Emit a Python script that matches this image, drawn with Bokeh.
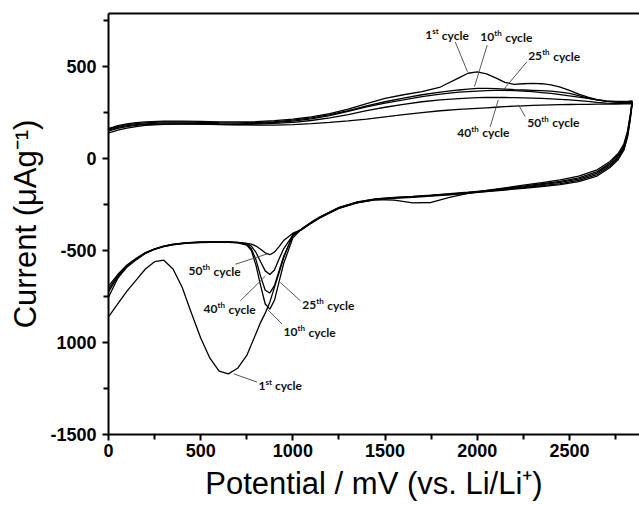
from bokeh.plotting import figure
from bokeh.models import FixedTicker, LinearAxis, ColumnDataSource
from bokeh.embed import file_html
from bokeh.resources import INLINE
from bokeh.core.properties import value

# ---------------- data (potential in mV, current in uA/g) ----------------
CYCLES = ["1st", "10th", "25th", "40th", "50th"]

# anodic sweep (0 -> 2840 mV)
ANOD_X = [0, 25, 50, 100, 150, 200, 300, 400, 500, 600, 700, 800, 900, 1000,
          1100, 1200, 1300, 1400, 1500, 1600, 1700, 1800, 1900, 1950, 2000,
          2050, 2100, 2150, 2200, 2250, 2300, 2350, 2400, 2450, 2500, 2550,
          2600, 2650, 2700, 2750, 2800, 2820, 2840]
ANOD_1 = [165, 172, 180, 190, 196, 200, 205, 205, 203, 200, 200, 202, 207, 215,
          228, 245, 270, 300, 328, 348, 365, 390, 440, 465, 472,
          462, 440, 415, 405, 408, 410, 408, 402, 390, 372, 352,
          335, 322, 315, 312, 312, 313, 315]
ANOD_10 = [160, 168, 175, 185, 191, 195, 200, 200, 198, 196, 195, 197, 202, 210,
           222, 240, 262, 288, 310, 330, 348, 362, 374, 379, 383,
           383, 381, 379, 376, 374, 372, 370, 368, 362, 355, 343,
           330, 320, 312, 309, 309, 310, 311]
ANOD_25 = [155, 163, 170, 180, 186, 190, 195, 195, 193, 191, 190, 192, 197, 205,
           217, 235, 257, 282, 303, 320, 338, 352, 362, 365, 368,
           370, 372, 372, 370, 368, 365, 360, 355, 349, 342, 335,
           328, 320, 313, 308, 305, 306, 307]
ANOD_40 = [150, 158, 165, 175, 181, 185, 190, 190, 189, 187, 186, 188, 192, 198,
           208, 222, 240, 262, 280, 296, 310, 320, 327, 330, 332,
           333, 333, 333, 332, 331, 330, 328, 326, 323, 320, 316,
           312, 307, 303, 301, 301, 302, 303]
ANOD_50 = [140, 148, 156, 167, 175, 181, 187, 189, 188, 186, 184, 183, 183, 186,
           191, 198, 206, 216, 228, 240, 251, 261, 268, 271, 274,
           277, 280, 283, 286, 288, 290, 292, 293, 294, 295, 296,
           296, 297, 297, 297, 298, 298, 299]

# cathodic sweep (2840 -> 0 mV)
CATH_X = [2840, 2830, 2815, 2795, 2765, 2720, 2650, 2550, 2450, 2350, 2250, 2150,
          2050, 1950, 1850, 1750, 1650, 1550, 1450, 1350, 1250, 1150, 1100, 1050,
          1000, 950, 925, 900, 875, 850, 825, 800, 775, 750, 700, 650, 600, 550,
          500, 450, 400, 350, 300, 250, 200, 150, 100, 50, 0]
CATH_1 = [312, 240, 150, 80, 30, -15, -60, -95, -115, -130, -144, -158,
          -172, -188, -210, -238, -240, -225, -222, -238, -268, -318, -350, -385,
          -410, -540, -620, -700, -780, -840, -890, -950, -1010, -1070, -1140, -1170, -1155, -1085,
          -975, -840, -700, -600, -552, -560, -600, -660, -720, -790, -860]
CATH_10 = [308, 232, 140, 70, 20, -24, -70, -104, -123, -136, -149, -161,
           -173, -182, -190, -198, -205, -210, -218, -235, -265, -315, -345, -380,
           -430, -570, -670, -770, -818, -790, -690, -580, -500, -470, -458, -455, -455, -455,
           -456, -458, -462, -468, -478, -493, -515, -550, -590, -650, -753]
CATH_25 = [304, 226, 132, 62, 12, -32, -78, -111, -129, -141, -153, -164,
           -175, -184, -192, -199, -206, -211, -219, -236, -266, -316, -346, -380,
           -420, -530, -610, -690, -730, -715, -640, -550, -490, -465, -456, -454, -454, -454,
           -455, -457, -461, -467, -477, -492, -513, -547, -585, -642, -725]
CATH_40 = [300, 220, 124, 54, 4, -40, -86, -118, -135, -146, -157, -167,
           -177, -186, -194, -201, -208, -213, -221, -238, -268, -318, -348, -382,
           -415, -490, -545, -605, -630, -610, -560, -510, -475, -462, -455, -453, -453, -453,
           -454, -456, -460, -466, -476, -491, -512, -545, -582, -636, -710]
CATH_50 = [296, 214, 116, 46, -4, -48, -94, -125, -141, -151, -161, -170,
           -179, -188, -196, -203, -210, -215, -223, -240, -270, -320, -350, -384,
           -405, -445, -478, -508, -522, -512, -492, -475, -465, -460, -455, -452, -452, -452,
           -453, -455, -459, -465, -475, -490, -510, -542, -578, -630, -693]

ANOD = [ANOD_1, ANOD_10, ANOD_25, ANOD_40, ANOD_50]
CATH = [CATH_1, CATH_10, CATH_25, CATH_40, CATH_50]

# annotation labels
LBL_NUM = ["1", "10", "25", "40", "50", "50", "40", "25", "10", "1"]
LBL_SUP = ["st", "th", "th", "th", "th", "th", "th", "th", "th", "st"]
LBL_X = [1718, 2016, 2276, 1892, 2271, 434, 515, 1051, 949, 813]
LBL_Y = [672, 661, 558, 141, 195, -612, -818, -796, -943, -1235]
LEAD_X0 = [1881, 2054, 2269, 2070, 2260, 688, 715, 1041, 941, 806]
LEAD_Y0 = [635, 618, 527, 173, 229, -574, -773, -773, -899, -1215]
LEAD_X1 = [1947, 1985, 2141, 2114, 2224, 869, 851, 932, 860, 679]
LEAD_Y1 = [473, 392, 374, 320, 293, -515, -638, -673, -818, -1170]

X_TICKS = [0, 500, 1000, 1500, 2000, 2500]
X_MINOR = [250, 750, 1250, 1750, 2250, 2750]
Y_TICKS = [-1500, -1000, -500, 0, 500]
Y_MINOR = [-1250, -750, -250, 250, 750]
Y_LABELS = {-1500: "-1500", -1000: "1000", -500: "-500", 0: "0", 500: "500"}

# ---------------- figure ----------------
p = figure(width=639, height=505, x_range=(0, 2880), y_range=(-1500, 790),
           output_backend="svg", toolbar_location=None,
           min_border_left=108, min_border_right=0, min_border_top=13,
           min_border_bottom=71)
p.outline_line_color = None
p.grid.visible = False
p.background_fill_color = "white"
p.border_fill_color = "white"

for a, c in zip(ANOD, CATH):
    p.line(ANOD_X + CATH_X, a + c, line_color="black", line_width=1.3)

p.segment(x0=LEAD_X0, y0=LEAD_Y0, x1=LEAD_X1, y1=LEAD_Y1,
          line_color="#444444", line_width=0.9)

FONT = "Lato"
NUM_W = {"1": 7, "10": 14, "25": 14, "40": 14, "50": 14}
SUP_W = {"st": 6, "th": 7.5}
SPACE_W = 3.5
src_num = ColumnDataSource(dict(x=LBL_X, y=LBL_Y, t=LBL_NUM))
src_sup = ColumnDataSource(dict(x=LBL_X, y=LBL_Y, t=LBL_SUP,
                                xo=[NUM_W[n] for n in LBL_NUM]))
src_cyc = ColumnDataSource(dict(x=LBL_X, y=LBL_Y, t=["cycle"] * len(LBL_X),
                                xo=[NUM_W[n] + SUP_W[s] + SPACE_W
                                    for n, s in zip(LBL_NUM, LBL_SUP)]))
p.text(x="x", y="y", text="t", source=src_num, text_font=value(FONT),
       text_font_size="12px", text_font_style="bold", text_baseline="middle",
       text_align="left", text_color="#111111")
p.text(x="x", y="y", text="t", source=src_sup, x_offset="xo", y_offset=-4,
       text_font=value(FONT), text_font_size="8px", text_font_style="bold",
       text_baseline="middle", text_align="left", text_color="#111111")
p.text(x="x", y="y", text="t", source=src_cyc, x_offset="xo",
       text_font=value(FONT), text_font_size="12px", text_font_style="bold",
       text_baseline="middle", text_align="left", text_color="#111111")

# axes
xa = p.xaxis[0]
xa.ticker = FixedTicker(ticks=X_TICKS, minor_ticks=X_MINOR)
ya = p.yaxis[0]
ya.ticker = FixedTicker(ticks=Y_TICKS, minor_ticks=Y_MINOR)
ya.major_label_overrides = Y_LABELS
for ax in (xa, ya):
    ax.axis_line_width = 2
    ax.axis_line_color = "black"
    ax.major_tick_line_width = 2
    ax.minor_tick_line_width = 2
    ax.major_tick_in = 0
    ax.minor_tick_in = 0
    ax.major_tick_out = 6
    ax.minor_tick_out = 5
    ax.major_label_text_font = "Liberation Sans"
    ax.major_label_text_font_style = "bold"
    ax.major_label_text_font_size = "18px"
    ax.major_label_text_color = "black"
    ax.axis_label_text_font = "Liberation Sans"
    ax.axis_label_text_font_style = "normal"
    ax.axis_label_text_font_size = "31px"
    ax.axis_label_text_color = "black"
xa.axis_label = "Potential / mV (vs. Li/Li\u207a)"
ya.axis_label = "Current (\u03bcAg\u207b\u00b9)"
xa.major_label_standoff = 3
ya.major_label_standoff = 6
xa.axis_label_standoff = 6
ya.axis_label_standoff = 4

top = LinearAxis(ticker=FixedTicker(ticks=[]), axis_line_width=2,
                 major_tick_out=0, minor_tick_out=0, major_tick_in=0,
                 minor_tick_in=0, major_label_text_font_size="0px",
                 major_label_standoff=0)
p.add_layout(top, "above")

open("out.html", "w").write(file_html(p, INLINE))
